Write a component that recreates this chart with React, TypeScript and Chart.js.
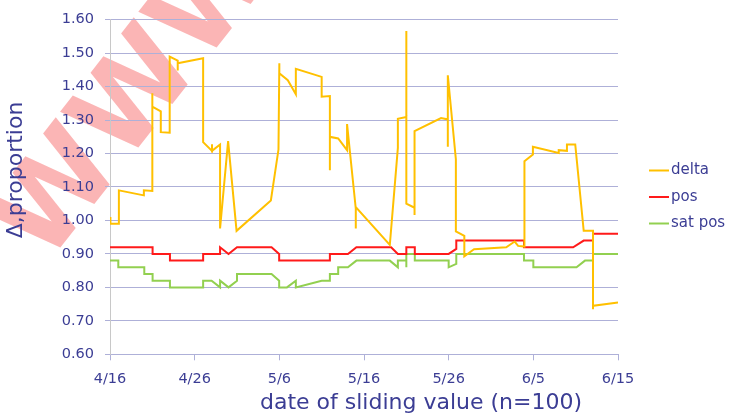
import React, { useEffect, useRef } from "react";
import { Chart, registerables } from "chart.js";

Chart.register(...registerables);

// ---- data ----
const tickLabels = ["4/16", "4/26", "5/6", "5/16", "5/26", "6/5", "6/15"]; // every 10 days
const seriesNames = ["delta", "pos", "sat pos"];
const seriesColors = ["#ffc000", "#ff1a1a", "#92d050"];

// days after 4/16
const deltaDays = [
  0.0, 0.05, 1.05, 1.05, 4.0, 4.0, 5.0, 5.0, 5.0, 6.0, 6.0, 7.05, 7.05, 8.0, 8.0, 8.0, 11.0, 11.0,
  12.05, 12.05, 12.05, 13.0, 13.0, 13.95, 14.95, 19.0, 19.9, 20.0, 20.0, 21.0, 21.95, 21.95, 25.0,
  25.0, 25.97, 25.97, 25.97, 26.95, 28.0, 28.0, 29.03, 29.03, 29.03, 33.05, 34.0, 34.0, 35.0, 35.0,
  35.0, 35.97, 35.97, 35.97, 39.1, 39.9, 39.9, 39.9, 40.85, 40.85, 41.85, 41.85, 43.0, 46.8, 47.8,
  48.2, 48.95, 48.95, 49.95, 49.95, 53.0, 53.0, 53.97, 53.97, 54.95, 55.95, 57.05, 57.05, 57.05, 60.0,
];
const deltaValues = [
  1.01, 0.99, 0.99, 1.09, 1.075, 1.09, 1.088, 1.38, 1.34, 1.326, 1.264, 1.262, 1.49, 1.478, 1.448,
  1.47, 1.485, 1.234, 1.208, 1.228, 1.208, 1.227, 0.976, 1.237, 0.969, 1.06, 1.212, 1.47, 1.44,
  1.419, 1.377, 1.453, 1.429, 1.37, 1.372, 1.15, 1.25, 1.245, 1.21, 1.288, 1.035, 0.976, 1.04, 0.927,
  1.217, 1.304, 1.309, 1.566, 1.05, 1.038, 1.016, 1.267, 1.306, 1.302, 1.22, 1.434, 1.183, 0.967,
  0.954, 0.893, 0.914, 0.92, 0.937, 0.924, 0.922, 1.177, 1.197, 1.22, 1.202, 1.21, 1.208, 1.227,
  1.227, 0.969, 0.969, 0.735, 0.745, 0.755,
];

const posDays = [
  0, 5.03, 5.03, 7.08, 7.08, 11.0, 11.0, 13.0, 13.0, 14.0, 15.0, 19.08, 19.98, 19.98, 25.97, 25.97,
  28.1, 29.1, 33.2, 34.0, 35.0, 35.0, 36.0, 36.0, 40.0, 40.9, 40.9, 48.9, 48.9, 54.7, 55.95, 57.05,
  57.05, 60,
];
const posValues = [
  0.92, 0.92, 0.9, 0.9, 0.88, 0.88, 0.9, 0.9, 0.92, 0.9, 0.92, 0.92, 0.9, 0.88, 0.88, 0.9, 0.9, 0.92,
  0.92, 0.9, 0.9, 0.92, 0.92, 0.9, 0.9, 0.915, 0.94, 0.94, 0.92, 0.92, 0.94, 0.94, 0.96, 0.96,
];

const satDays = [
  0, 0.98, 0.98, 4.05, 4.05, 5.03, 5.03, 7.08, 7.08, 11.0, 11.0, 12.0, 13.0, 13.0, 14.0, 15.0, 15.0,
  19.08, 19.98, 19.98, 20.9, 21.95, 21.95, 25.0, 25.97, 25.97, 26.95, 26.95, 28.1, 29.1, 33.05, 34.0,
  34.0, 35.0, 35.0, 35.0, 36.0, 36.0, 40.0, 40.0, 40.9, 40.9, 48.9, 48.9, 50.0, 50.0, 55.1, 56.1,
  57.05, 57.05, 60,
];
const satValues = [
  0.88, 0.88, 0.86, 0.86, 0.84, 0.84, 0.82, 0.82, 0.8, 0.8, 0.82, 0.82, 0.8, 0.82, 0.8, 0.82, 0.84,
  0.84, 0.82, 0.8, 0.8, 0.82, 0.8, 0.82, 0.82, 0.84, 0.84, 0.86, 0.86, 0.88, 0.88, 0.86, 0.88, 0.88,
  0.86, 0.9, 0.9, 0.88, 0.88, 0.86, 0.87, 0.9, 0.9, 0.88, 0.88, 0.86, 0.86, 0.88, 0.88, 0.9, 0.9,
];

const xTitle = "date of sliding value (n=100)";
const yTitle = "Δ,proportion";
const watermark = "WWW.";

const TEXT = "#3b3d94";
const GRID = "#aeb0d8";
const FONT = "'DejaVu Sans', sans-serif";

const pts = (xs: number[], ys: number[]) => xs.map((x, i) => ({ x, y: ys[i] }));

const decorPlugin = {
  id: "decor",
  beforeDraw(chart: any) {
    const ctx = chart.ctx;
    ctx.save();
    ctx.translate(46, 266);
    ctx.rotate((-52 * Math.PI) / 180);
    ctx.font = `bold 115px ${FONT}`;
    ctx.fillStyle = "rgba(245,60,60,0.38)";
    ctx.textBaseline = "alphabetic";
    ctx.fillText(watermark, 0, 0);
    ctx.restore();
  },
  afterDraw(chart: any) {
    const ctx = chart.ctx;
    ctx.save();
    ctx.fillStyle = TEXT;
    // y title
    ctx.save();
    ctx.translate(22, 170);
    ctx.rotate(-Math.PI / 2);
    ctx.font = `22px ${FONT}`;
    ctx.textAlign = "center";
    ctx.textBaseline = "alphabetic";
    ctx.fillText(yTitle, 0, 0);
    ctx.restore();
    // x title
    ctx.font = `22px ${FONT}`;
    ctx.textAlign = "center";
    ctx.textBaseline = "alphabetic";
    ctx.fillText(xTitle, 421, 409);
    // legend
    const ys = [170.5, 197, 223.5];
    chart.data.datasets.forEach((ds: any, i: number) => {
      ctx.strokeStyle = ds.borderColor;
      ctx.lineWidth = 2;
      ctx.beginPath();
      ctx.moveTo(649, ys[i]);
      ctx.lineTo(669, ys[i]);
      ctx.stroke();
      ctx.fillStyle = TEXT;
      ctx.font = `15px ${FONT}`;
      ctx.textAlign = "left";
      ctx.textBaseline = "middle";
      ctx.fillText(ds.label, 671, ys[i]);
    });
    ctx.restore();
  },
};

export default function App() {
  const ref = useRef<HTMLCanvasElement | null>(null);
  useEffect(() => {
    if (!ref.current) return;
    const chart = new Chart(ref.current, {
      type: "line",
      data: {
        datasets: [
          { label: seriesNames[0], data: pts(deltaDays, deltaValues), borderColor: seriesColors[0] },
          { label: seriesNames[1], data: pts(posDays, posValues), borderColor: seriesColors[1] },
          { label: seriesNames[2], data: pts(satDays, satValues), borderColor: seriesColors[2] },
        ],
      },
      options: {
        responsive: false,
        animation: false,
        devicePixelRatio: 1,
        layout: { padding: { left: 0, right: 113, top: 15, bottom: 0 } },
        elements: {
          point: { radius: 0 },
          line: { borderWidth: 2, tension: 0, fill: false },
        },
        plugins: { legend: { display: false }, tooltip: { enabled: false } },
        scales: {
          x: {
            type: "linear",
            min: 0,
            max: 60,
            afterFit: (s: any) => {
              s.height = 61.7;
            },
            grid: { drawOnChartArea: false, drawTicks: true, tickLength: 6, color: GRID },
            border: { color: GRID, width: 1 },
            ticks: {
              stepSize: 10,
              padding: 10,
              maxRotation: 0,
              color: TEXT,
              font: { family: FONT, size: 14.5 },
              callback: (v: any) => tickLabels[Math.round(Number(v) / 10)] ?? "",
            },
          },
          y: {
            min: 0.6,
            max: 1.6,
            afterFit: (s: any) => {
              s.width = 110;
            },
            grid: { color: GRID, lineWidth: 1, drawTicks: true, tickLength: 5 },
            border: { color: "#c8c8c8", width: 1 },
            ticks: {
              stepSize: 0.1,
              padding: 11,
              color: TEXT,
              font: { family: FONT, size: 14.5 },
              callback: (v: any) => Number(v).toFixed(2),
            },
          },
        },
      },
      plugins: [decorPlugin],
    });
    return () => chart.destroy();
  }, []);
  return (
    <div style={{ position: "fixed", left: 0, top: 0, width: 731, height: 416, background: "#fff" }}>
      <canvas ref={ref} width={731} height={416} style={{ display: "block" }} />
    </div>
  );
}
